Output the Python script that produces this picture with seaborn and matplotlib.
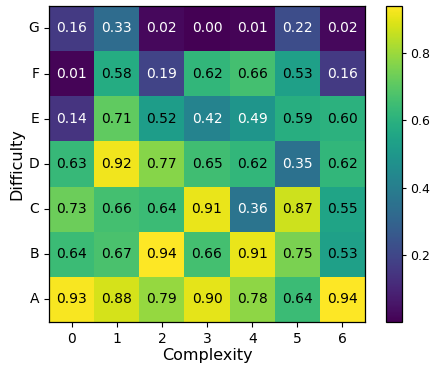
import numpy as np
import pandas as pd
import matplotlib
matplotlib.use('Agg')
import matplotlib.pyplot as plt
import seaborn as sns

# 行は上から G..A、列は 0..6
rows = ['G', 'F', 'E', 'D', 'C', 'B', 'A']
cols = ['0', '1', '2', '3', '4', '5', '6']
g_vals = [0.16, 0.33, 0.02, 0.00, 0.01, 0.22, 0.02]
f_vals = [0.01, 0.58, 0.19, 0.62, 0.66, 0.53, 0.16]
e_vals = [0.14, 0.71, 0.52, 0.42, 0.49, 0.59, 0.60]
d_vals = [0.63, 0.92, 0.77, 0.65, 0.62, 0.35, 0.62]
c_vals = [0.73, 0.66, 0.64, 0.91, 0.36, 0.87, 0.55]
b_vals = [0.64, 0.67, 0.94, 0.66, 0.91, 0.75, 0.53]
a_vals = [0.93, 0.88, 0.79, 0.90, 0.78, 0.64, 0.94]
cbar_ticks = [0.2, 0.4, 0.6, 0.8]

df = pd.DataFrame([g_vals, f_vals, e_vals, d_vals, c_vals, b_vals, a_vals],
                  index=rows, columns=cols)

fig = plt.figure(figsize=(4.3, 3.66), dpi=100)
ax = fig.add_axes([0.114, 0.12, 0.735, 0.864])
cax = fig.add_axes([0.897, 0.12, 0.038, 0.864])

sns.heatmap(df, ax=ax, cbar_ax=cax, cmap='viridis',
            annot=True, fmt='.2f', annot_kws={'size': 10},
            cbar_kws={'ticks': cbar_ticks})

# 値 0.5 未満は白文字、それ以上は黒文字
for t, v in zip(ax.texts, df.values.flatten()):
    t.set_color('white' if v < 0.5 else 'black')

for s in ax.spines.values():
    s.set_visible(True)
    s.set_linewidth(0.9)
cb = ax.collections[0].colorbar
cb.outline.set_visible(True)
cb.outline.set_linewidth(0.9)
cb.ax.tick_params(labelsize=9, length=3, pad=2.5)

ax.set_yticklabels(rows, rotation=0)
ax.set_xticklabels(cols, rotation=0)
ax.tick_params(labelsize=10, length=3.5)
ax.set_xlabel('Complexity', fontsize=11.5, labelpad=1.5)
ax.set_ylabel('Difficulty', fontsize=11.5, labelpad=3)

fig.savefig('out.png', dpi=100)
